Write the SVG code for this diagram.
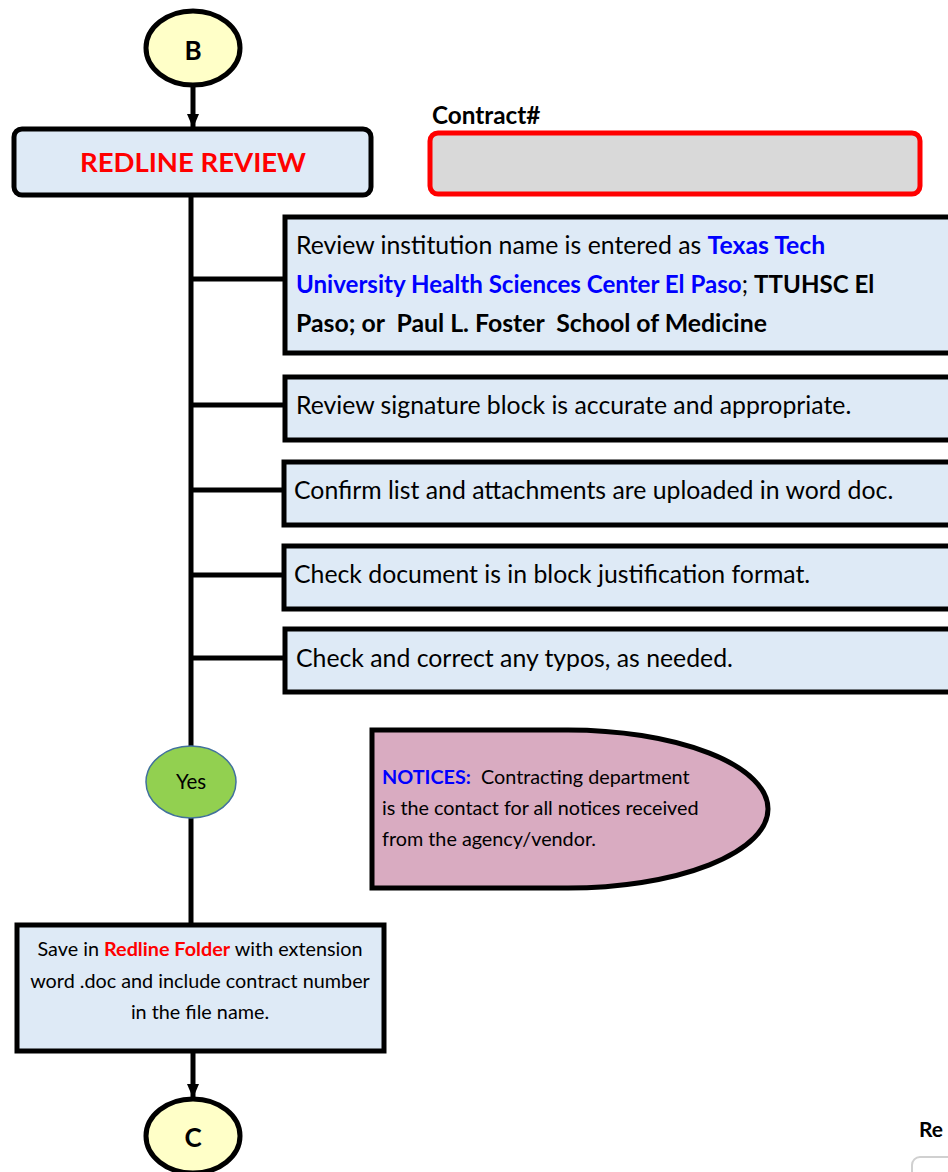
<svg xmlns="http://www.w3.org/2000/svg" width="948" height="1172" viewBox="0 0 948 1172">
<style>
text{font-family:Lato,"Open Sans","Liberation Sans",sans-serif;fill:#000}
.box{fill:#deeaf6;stroke:#000;stroke-width:5}
.term{fill:#ffffc8;stroke:#000;stroke-width:5}
.ln{stroke:#000;stroke-width:5;fill:none}
.t22{font-size:24.8px}
.t18{font-size:19.8px}
.b{font-weight:bold}
.blue{fill:#0000ff}
.red{fill:#ff0000}
</style>
<defs>
<marker id="arr" markerWidth="14" markerHeight="12" refX="13" refY="6" orient="auto" markerUnits="userSpaceOnUse">
<path d="M0,0 L14,6 L0,12 Z" fill="#000"/>
</marker>
</defs>
<g id="connectors">
<line class="ln" x1="193" y1="85" x2="193" y2="127" marker-end="url(#arr)"/>
<line class="ln" x1="191" y1="195" x2="191" y2="746"/>
<line class="ln" x1="191" y1="818" x2="191" y2="924"/>
<line class="ln" x1="191" y1="279" x2="284" y2="279"/>
<line class="ln" x1="191" y1="405" x2="284" y2="405"/>
<line class="ln" x1="191" y1="490" x2="284" y2="490"/>
<line class="ln" x1="191" y1="575" x2="284" y2="575"/>
<line class="ln" x1="191" y1="658" x2="284" y2="658"/>
<line class="ln" x1="193" y1="1051" x2="193" y2="1097" marker-end="url(#arr)"/>
</g>
<g id="nodeB">
<ellipse class="term" cx="193" cy="48" rx="47" ry="37"/>
<text class="b" x="193" y="60" font-size="26" text-anchor="middle">B</text>
</g>
<g id="redline">
<rect class="box" x="14" y="129" width="357" height="66" rx="8"/>
<text class="b red" x="193" y="172" font-size="27.5" text-anchor="middle">REDLINE REVIEW</text>
</g>
<g id="contract">
<text class="b" x="432" y="124" font-size="24.3">Contract#</text>
<rect x="430" y="133" width="490" height="61" rx="8" fill="#d9d9d9" stroke="#ff0000" stroke-width="5"/>
</g>
<g id="step1">
<rect class="box" x="285" y="217" width="680" height="136"/>
<text class="t22" x="296" y="254">Review institution name is entered as <tspan class="b blue">Texas Tech</tspan></text>
<text x="296" y="293" font-size="24.1"><tspan class="b blue">University Health Sciences Center El Paso</tspan>; <tspan class="b">TTUHSC El</tspan></text>
<text class="t22 b" x="296" y="332" xml:space="preserve">Paso; or  Paul L. Foster  School of Medicine</text>
</g>
<g id="step2">
<rect class="box" x="285" y="377" width="680" height="63"/>
<text class="t22" x="296" y="414">Review signature block is accurate and appropriate.</text>
</g>
<g id="step3">
<rect class="box" x="284" y="462" width="680" height="63"/>
<text class="t22" x="294" y="499">Confirm list and attachments are uploaded in word doc.</text>
</g>
<g id="step4">
<rect class="box" x="284" y="546" width="680" height="63"/>
<text class="t22" x="294" y="583">Check document is in block justification format.</text>
</g>
<g id="step5">
<rect class="box" x="285" y="629" width="680" height="63"/>
<text class="t22" x="296" y="667">Check and correct any typos, as needed.</text>
</g>
<g id="yes">
<ellipse cx="191" cy="782" rx="45" ry="36" fill="#92d050" stroke="#41719c" stroke-width="1.5"/>
<text x="191" y="789" font-size="20.5" text-anchor="middle">Yes</text>
</g>
<g id="notices">
<path d="M372,730 H568 A200,79 0 0 1 568,888 H372 Z" fill="#d9abc1" stroke="#000" stroke-width="5"/>
<text class="t18" x="382" y="784" xml:space="preserve"><tspan class="b blue">NOTICES:</tspan>  Contracting department</text>
<text class="t18" x="382" y="815">is the contact for all notices received</text>
<text class="t18" x="382" y="846">from the agency/vendor.</text>
</g>
<g id="save">
<rect class="box" x="17" y="925" width="367" height="126"/>
<text class="t18" x="200" y="956" text-anchor="middle">Save in <tspan class="b red">Redline Folder</tspan> with extension</text>
<text class="t18" x="200" y="988" text-anchor="middle">word .doc and include contract number</text>
<text class="t18" x="200" y="1019" text-anchor="middle">in the file name.</text>
</g>
<g id="nodeC">
<ellipse class="term" cx="193" cy="1136" rx="47" ry="37"/>
<text class="b" x="193" y="1147" font-size="26" text-anchor="middle">C</text>
</g>
<g id="re">
<text class="b" x="919" y="1137" font-size="21">Re</text>
<rect x="912" y="1157" width="60" height="40" rx="8" fill="#fff" stroke="#d0d0d0" stroke-width="2"/>
</g>
</svg>
